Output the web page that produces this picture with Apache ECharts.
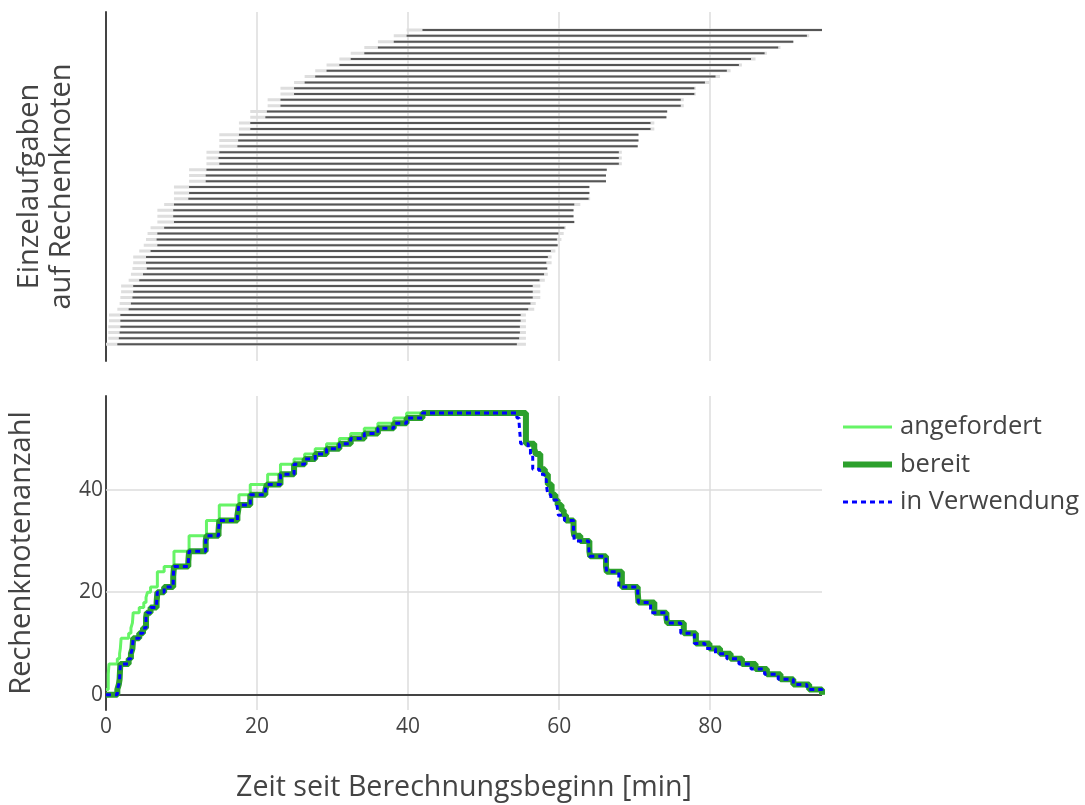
<!DOCTYPE html>
<html>
<head>
<meta charset="utf-8">
<script src="https://cdn.jsdelivr.net/npm/echarts@6/dist/echarts.min.js"></script>
<style>
  html, body { margin: 0; padding: 0; background: #fff; }
  #chart { width: 1085px; height: 805px; }
</style>
</head>
<body>
<div id="chart"></div>
<script>
// one entry per task, bottom bar first (minutes since start)
const reqStart = [0.0, 0.3, 0.3, 0.3, 0.4, 0.4, 1.5, 1.8, 1.9, 2.0, 2.0, 3.0, 3.3, 3.5, 3.6, 3.6, 4.4, 5.0, 5.3, 5.5,
  5.9, 6.8, 6.8, 6.8, 7.7, 9.0, 9.0, 9.0, 11.0, 11.0, 11.0, 13.3, 13.3, 13.3, 15.0, 15.0, 15.0, 17.6, 17.6, 19.1,
  19.1, 21.4, 21.4, 23.1, 23.1, 24.9, 26.3, 27.7, 29.2, 30.9, 32.4, 34.2, 36.0, 38.1, 39.8];
const useStart = [1.5, 1.7, 1.8, 1.9, 1.9, 1.9, 3.0, 3.3, 3.5, 3.6, 3.6, 4.4, 4.9, 5.4, 5.3, 5.3, 5.9, 6.8, 6.7, 6.8,
  7.7, 9.0, 8.9, 8.9, 9.0, 10.9, 11.0, 11.0, 13.2, 13.2, 13.3, 15.0, 14.9, 15.0, 17.4, 17.5, 17.6, 19.1, 19.1, 21.1,
  21.3, 23.1, 23.1, 24.9, 24.9, 26.3, 27.7, 29.2, 30.9, 32.4, 34.2, 36.0, 38.1, 39.8, 41.9];
const useEnd = [54.4, 54.7, 54.8, 54.8, 54.9, 54.9, 55.9, 56.2, 56.5, 56.5, 56.5, 57.4, 58.0, 58.4, 58.3, 58.5, 58.9, 59.8, 59.7, 59.9,
  60.7, 62.0, 61.9, 61.9, 62.0, 63.9, 64.0, 64.0, 66.2, 66.2, 66.3, 67.9, 67.9, 67.9, 70.4, 70.5, 70.5, 72.1, 72.1, 74.2,
  74.3, 76.1, 76.1, 77.9, 77.9, 79.3, 80.7, 82.2, 83.8, 85.4, 87.2, 89.0, 91.0, 92.8, 94.8];
const relEnd = [55.6, 55.6, 55.6, 55.6, 55.6, 55.6, 56.7, 56.9, 57.5, 57.5, 57.5, 58.1, 58.5, 58.5, 59.0, 59.0, 59.5, 59.8, 60.3, 60.6,
  60.9, 62.0, 61.9, 61.9, 62.8, 64.1, 64.0, 64.0, 66.2, 66.2, 66.3, 68.3, 68.3, 68.3, 70.4, 70.5, 70.5, 72.6, 72.6, 74.2,
  74.3, 76.5, 76.5, 78.1, 78.1, 79.9, 81.3, 82.7, 84.2, 86.0, 87.5, 89.3, 91.0, 93.1, 94.8];

const xTicks = [0, 20, 40, 60, 80];
const yTicks = [0, 20, 40];

const FONT = '"Open Sans", "Noto Sans", sans-serif';
const TXT = '#444';

// running count of nodes from the up/down times of the tasks
function stepSeries(ups, downs) {
  const ev = [];
  ups.forEach(t => ev.push([t, 1]));
  downs.forEach(t => ev.push([t, -1]));
  ev.sort((a, b) => a[0] - b[0]);
  const out = [[0, 0]];
  let n = 0;
  ev.forEach(e => {
    n += e[1];
    if (out[out.length - 1][0] === e[0]) out[out.length - 1][1] = n;
    else out.push([e[0], n]);
  });
  return out;
}

const taskData = reqStart.map((r, i) => [i, r, useStart[i], useEnd[i], relEnd[i]]);

const chart = echarts.init(document.getElementById('chart'));

const gridMark = (xs, ys, zero) => ({
  silent: true,
  symbol: 'none',
  z: 1,
  label: {show: false},
  emphasis: {disabled: true},
  data: xs.map(v => ({xAxis: v, lineStyle: {color: '#dcdcdc', width: 1.5, type: 'solid'}}))
    .concat(ys.map(v => ({yAxis: v, lineStyle: {color: '#dcdcdc', width: 1.5, type: 'solid'}})))
    .concat(zero ? [{yAxis: 0, lineStyle: {color: '#444', width: 2, type: 'solid'}}] : [])
});

chart.setOption({
  animation: false,
  textStyle: {fontFamily: FONT},
  grid: [
    {left: 106, width: 716, top: 12, height: 349, containLabel: false, outerBoundsMode: 'none'},
    {left: 106, width: 716, top: 396, height: 314, containLabel: false, outerBoundsMode: 'none'}
  ],
  legend: {
    orient: 'vertical',
    left: 840,
    top: 414,
    padding: 0,
    itemWidth: 49,
    itemHeight: 14,
    itemGap: 11.5,
    itemStyle: {opacity: 0},
    textStyle: {fontSize: 25.5, color: TXT, fontFamily: FONT, padding: [0, 0, 0, 3]},
    data: [
      {name: 'angefordert', lineStyle: {width: 3}},
      {name: 'bereit', lineStyle: {width: 6}},
      {name: 'in Verwendung', lineStyle: {width: 3, type: [5, 4]}}
    ]
  },
  xAxis: [
    {
      type: 'value', gridIndex: 0, min: 0, max: 94.8,
      axisLine: {show: false}, axisTick: {show: false}, axisLabel: {show: false}, splitLine: {show: false}
    },
    {
      type: 'value', gridIndex: 1, min: 0, max: 94.8,
      axisLine: {show: false}, axisTick: {show: false}, splitLine: {show: false},
      axisLabel: {customValues: xTicks, fontSize: 21, color: TXT, fontFamily: FONT, margin: 7},
      name: 'Zeit seit Berechnungsbeginn [min]',
      nameLocation: 'middle',
      nameGap: 63,
      nameTextStyle: {fontSize: 28.6, color: TXT, fontFamily: FONT}
    }
  ],
  yAxis: [
    {
      type: 'value', gridIndex: 0, min: -2.9, max: 57.1,
      axisLine: {show: true, onZero: false, lineStyle: {color: '#444', width: 2}},
      axisTick: {show: false}, axisLabel: {show: false}, splitLine: {show: false},
      name: 'Einzelaufgaben\nauf Rechenknoten',
      nameLocation: 'middle',
      nameRotate: 90,
      nameGap: 28,
      nameTextStyle: {fontSize: 29, color: TXT, fontFamily: FONT, lineHeight: 32}
    },
    {
      type: 'value', gridIndex: 1, min: -3, max: 58.3,
      axisLine: {show: true, onZero: false, lineStyle: {color: '#444', width: 2}},
      axisTick: {show: false}, splitLine: {show: false},
      axisLabel: {customValues: yTicks, fontSize: 21, color: TXT, fontFamily: FONT, margin: 3},
      name: 'Rechenknotenanzahl',
      nameLocation: 'middle',
      nameRotate: 90,
      nameGap: 70,
      nameTextStyle: {fontSize: 29, color: TXT, fontFamily: FONT}
    }
  ],
  series: [
    {
      type: 'custom',
      name: 'tasks',
      xAxisIndex: 0, yAxisIndex: 0,
      z: 3,
      silent: true,
      encode: {x: [1, 2, 3, 4], y: 0},
      markLine: gridMark([20, 40, 60, 80], [], false),
      renderItem: function (params, api) {
        const i = api.value(0);
        const a = api.coord([api.value(1), i]);
        const b = api.coord([api.value(2), i]);
        const c = api.coord([api.value(3), i]);
        const d = api.coord([api.value(4), i]);
        return {
          type: 'group',
          children: [
            {type: 'rect', shape: {x: a[0], y: a[1] - 1.5, width: d[0] - a[0], height: 3}, style: {fill: '#dedede'}},
            {type: 'rect', shape: {x: b[0], y: b[1] - 1, width: c[0] - b[0], height: 2}, style: {fill: '#555'}}
          ]
        };
      },
      data: taskData
    },
    {
      type: 'line', name: 'angefordert',
      xAxisIndex: 1, yAxisIndex: 1,
      step: 'end', symbol: 'none', z: 2,
      lineStyle: {color: '#66f466', width: 3},
      itemStyle: {color: '#66f466'},
      markLine: gridMark([20, 40, 60, 80], [20, 40], true),
      data: stepSeries(reqStart, relEnd)
    },
    {
      type: 'line', name: 'bereit',
      xAxisIndex: 1, yAxisIndex: 1,
      step: 'end', symbol: 'none', z: 3,
      lineStyle: {color: '#2ca02c', width: 6},
      itemStyle: {color: '#2ca02c'},
      data: stepSeries(useStart, relEnd)
    },
    {
      type: 'line', name: 'in Verwendung',
      xAxisIndex: 1, yAxisIndex: 1,
      step: 'end', symbol: 'none', z: 4,
      lineStyle: {color: '#0000ff', width: 3, type: [5, 4]},
      itemStyle: {color: '#0000ff'},
      data: stepSeries(useStart, useEnd)
    }
  ]
});
</script>
</body>
</html>
